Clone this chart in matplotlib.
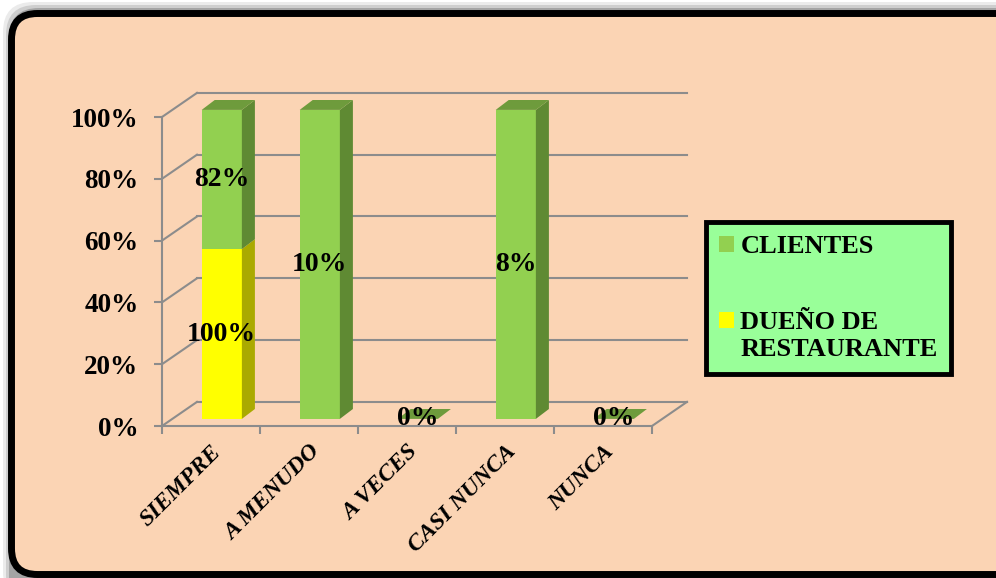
import matplotlib.pyplot as plt
from matplotlib.patches import Rectangle, Polygon, FancyBboxPatch, Patch
from matplotlib.legend_handler import HandlerPatch

categorias = ['SIEMPRE', 'A MENUDO', 'A VECES', 'CASI NUNCA', 'NUNCA']
clientes = [82, 10, 0, 8, 0]
dueno = [100, 0, 0, 0, 0]
nombres = ['CLIENTES', 'DUEÑO DE\nRESTAURANTE']
yticks = [0, 20, 40, 60, 80, 100]

plt.rcParams['font.family'] = ['Liberation Serif', 'DejaVu Serif']
plt.rcParams['font.weight'] = 'bold'

verde, verde_lado, verde_tapa = '#92D050', '#5F8A33', '#6E9B3C'
amarillo, amarillo_lado = '#FFFF00', '#AAAA00'
gris = '#8C8C8C'

# efecto 3D (en unidades de datos)
DX, DY = 0.357, 7.8     # fondo
BX, BY = 0.11, 2.3      # posicion de las barras
PX, PY = 0.133, 3.2     # grosor de las barras
W = 0.41

fig = plt.figure(figsize=(9.96, 5.78), dpi=100)

# marco redondeado
bg = fig.add_axes([0, 0, 1, 1])
bg.set_xlim(0, 996)
bg.set_ylim(578, 0)
bg.axis('off')
for k, a in enumerate([0.08, 0.12, 0.2]):
    bg.add_patch(FancyBboxPatch((3 + 3 * k, 2 + 3 * k), 1100, 600,
                                boxstyle='round,pad=0,rounding_size=30',
                                fc='black', ec='none', alpha=a))
bg.add_patch(FancyBboxPatch((11.5, 13.5), 1100, 561,
                            boxstyle='round,pad=0,rounding_size=26',
                            fc='#FBD4B4', ec='black', lw=5))

ax = fig.add_axes([162 / 996, 152 / 578, 490 / 996, 309 / 578])
ax.set_xlim(-0.5, 4.5)
ax.set_ylim(0, 100)
ax.patch.set_visible(False)
for s in ['top', 'right']:
    ax.spines[s].set_visible(False)
for s in ['left', 'bottom']:
    ax.spines[s].set_color(gris)
    ax.spines[s].set_linewidth(1.5)

ax.set_yticks(yticks)
ax.set_yticklabels([f'{v}%' for v in yticks], fontsize=19.5, fontweight='bold')
ax.tick_params(axis='y', direction='out', length=6, width=1.5, color=gris, pad=11)
ax.set_xticks(range(len(categorias)))
ax.set_xticklabels(categorias, rotation=45, ha='right', rotation_mode='anchor',
                   fontsize=17, fontstyle='italic', fontweight='bold')
ax.tick_params(axis='x', which='major', length=0, pad=11)
ax.set_xticks([i - 0.5 for i in range(len(categorias) + 1)], minor=True)
ax.tick_params(axis='x', which='minor', direction='out', length=6, width=1.5, color=gris)

# cuadricula del fondo y pared izquierda
for v in yticks:
    ax.plot([-0.5 + DX, 4.5 + DX], [v + DY, v + DY], color=gris, lw=1.5, clip_on=False, zorder=1)
    ax.plot([-0.5, -0.5 + DX], [v, v + DY], color=gris, lw=1.5, clip_on=False, zorder=1)
ax.plot([4.5, 4.5 + DX], [0, DY], color=gris, lw=1.5, clip_on=False, zorder=1)

# barras apiladas al 100%
for i in range(len(categorias)):
    total = clientes[i] + dueno[i]
    base = 0
    x0 = i - W / 2 + BX
    for val, cf, cs, nom in [(dueno[i], amarillo, amarillo_lado, 'd'),
                             (clientes[i], verde, verde_lado, 'c')]:
        h = 100 * val / total if total else 0
        y0 = base + BY
        ax.add_patch(Rectangle((x0, y0), W, h, fc=cf, ec='none', zorder=3, clip_on=False))
        ax.add_patch(Polygon([(x0 + W, y0), (x0 + W + PX, y0 + PY),
                              (x0 + W + PX, y0 + h + PY), (x0 + W, y0 + h)],
                             closed=True, fc=cs, ec='none', zorder=3, clip_on=False))
        if val > 0 or nom == 'c':
            ax.text(i + BX, y0 + h / 2, f'{val}%', ha='center', va='center',
                    fontsize=20, fontweight='bold', zorder=6)
        base += h
    top = base + BY
    ax.add_patch(Polygon([(x0, top), (x0 + W, top), (x0 + W + PX, top + PY), (x0 + PX, top + PY)],
                         closed=True, fc=verde_tapa, ec='none', zorder=4, clip_on=False))


def primera_linea(legend, orig_handle, xdescent, ydescent, width, height, fontsize):
    # el cuadrito va junto a la primera linea del texto
    return Rectangle((-xdescent, -ydescent + 0.6 * fontsize), width, height)


handles = [Patch(fc=verde, ec='none'), Patch(fc=amarillo, ec='none')]
leg = fig.legend(handles, nombres, loc='upper left', bbox_to_anchor=(706 / 996, 1 - 222 / 578),
                 borderaxespad=0, handler_map={handles[1]: HandlerPatch(patch_func=primera_linea)},
                 prop={'family': 'Liberation Serif', 'weight': 'bold', 'size': 19},
                 handlelength=0.55, handleheight=0.55, handletextpad=0.25, labelspacing=2.0,
                 borderpad=0.5, fancybox=False, framealpha=1, facecolor='#99FF99',
                 edgecolor='black')
leg.get_frame().set_linewidth(3.5)

fig.savefig('out.png', dpi=100)
